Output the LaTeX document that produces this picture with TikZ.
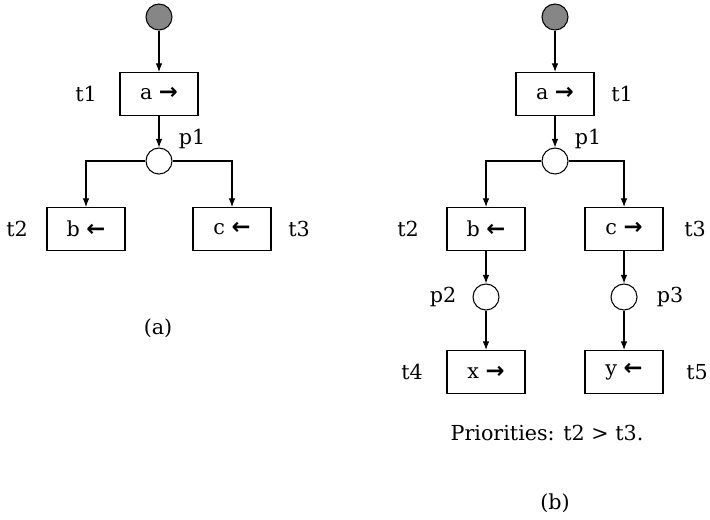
\documentclass[tikz,border=0pt]{standalone}
\usepackage{fontspec}
\setmainfont{DejaVu Serif}
\newfontfamily\arrowfont{DejaVu Sans}
\usetikzlibrary{shapes,arrows,arrows.meta}
\newcommand{\arrR}{{\arrowfont\bfseries\fontsize{17pt}{18pt}\selectfont →}}
\newcommand{\arrL}{{\arrowfont\bfseries\fontsize{17pt}{18pt}\selectfont ←}}
\tikzstyle{trans} = [rectangle, draw, line width=0.8pt,
    minimum width=58.5pt, minimum height=32.25pt, inner sep=0pt]
\tikzstyle{place} = [circle, draw, line width=0.8pt,
    minimum size=19.5pt, inner sep=0pt]
\tikzstyle{token} = [place, fill=gray!95]
\tikzstyle{tag} = [inner sep=0pt]
\tikzstyle{line} = [draw, line width=0.8pt, -{Latex[length=6.5pt,width=5pt]}]

\begin{document}
\begin{tikzpicture}[font=\fontsize{15.5pt}{18pt}\selectfont]
    \useasboundingbox (0pt,0pt) rectangle (532.5pt,-389.25pt);
    % Place nodes (a)
    \node [token] (m0a) at (119.25pt,-12.75pt) {};
    \node [trans, below of=m0a, node distance=57.75pt] (t1a) {a \arrR};
    \node [place, below of=t1a, node distance=50.25pt] (p1a) {};
    \node [trans, below of=p1a, node distance=51pt, xshift=-54.75pt] (t2a) {b \arrL};
    \node [trans, below of=p1a, node distance=51pt, xshift=54.75pt] (t3a) {c \arrL};
    \node [tag, left of=t1a, node distance=54.75pt] {t1};
    \node [tag, right of=p1a, node distance=24.75pt, yshift=16.5pt] {p1};
    \node [tag, left of=t2a, node distance=51.75pt] {t2};
    \node [tag, right of=t3a, node distance=50.25pt] {t3};
    \node [tag] (capa) at (118.5pt,-246pt) {(a)};

    % Place nodes (b)
    \node [token] (m0b) at (416.25pt,-12.75pt) {};
    \node [trans, below of=m0b, node distance=57.75pt] (t1b) {a \arrR};
    \node [place, below of=t1b, node distance=50.25pt] (p1b) {};
    \node [trans, below of=p1b, node distance=51pt, xshift=-51.75pt] (t2b) {b \arrL};
    \node [trans, below of=p1b, node distance=51pt, xshift=51.75pt] (t3b) {c \arrR};
    \node [place, below of=t2b, node distance=51pt] (p2b) {};
    \node [place, below of=t3b, node distance=51pt] (p3b) {};
    \node [trans, below of=p2b, node distance=56.25pt] (t4b) {x \arrR};
    \node [trans, below of=p3b, node distance=56.25pt] (t5b) {y \arrL};
    \node [tag, right of=t1b, node distance=50.25pt] {t1};
    \node [tag, right of=p1b, node distance=24.75pt, yshift=16.5pt] {p1};
    \node [tag, left of=t2b, node distance=58.5pt] {t2};
    \node [tag, right of=t3b, node distance=53.25pt] {t3};
    \node [tag, left of=p2b, node distance=32.25pt] {p2};
    \node [tag, right of=p3b, node distance=34.5pt] {p3};
    \node [tag, left of=t4b, node distance=55.5pt] {t4};
    \node [tag, right of=t5b, node distance=54.75pt] {t5};
    \node [tag] (prio) at (410.25pt,-324.75pt) {Priorities: t2 > t3.};
    \node [tag] (capb) at (416.25pt,-377.25pt) {(b)};

    % Draw edges (a)
    \path [line] (m0a) -- (t1a);
    \path [line] (t1a) -- (p1a);
    \path [line] (p1a.west) -| (t2a.north);
    \path [line] (p1a.east) -| (t3a.north);

    % Draw edges (b)
    \path [line] (m0b) -- (t1b);
    \path [line] (t1b) -- (p1b);
    \path [line] (p1b.west) -| (t2b.north);
    \path [line] (p1b.east) -| (t3b.north);
    \path [line] (t2b) -- (p2b);
    \path [line] (t3b) -- (p3b);
    \path [line] (p2b) -- (t4b);
    \path [line] (p3b) -- (t5b);
\end{tikzpicture}
\end{document}
